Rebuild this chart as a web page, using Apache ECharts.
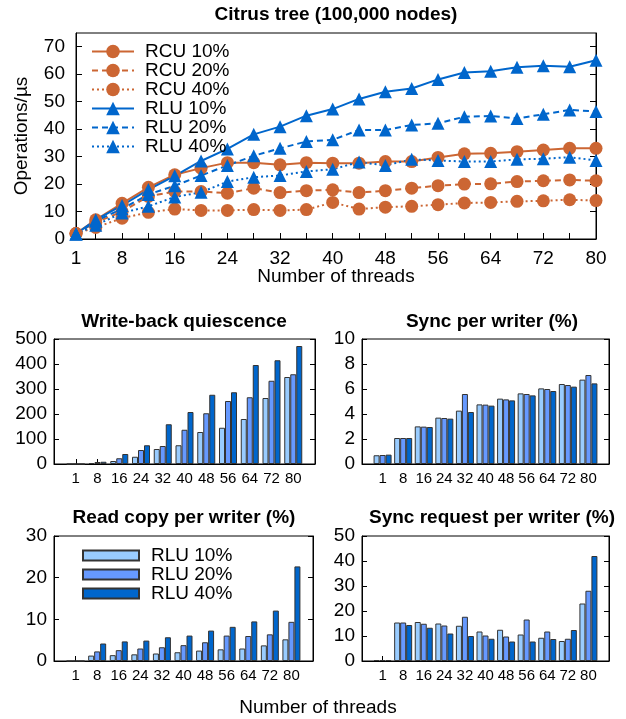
<!DOCTYPE html>
<html><head><meta charset="utf-8">
<script src="https://cdn.jsdelivr.net/npm/echarts@6/dist/echarts.min.js"></script>
<style>html,body{margin:0;padding:0;background:#fff;} #c1,#c2{position:absolute;left:0;top:0;width:626px;height:719px;}</style>
</head><body>
<div id="c1"></div><div id="c2"></div>
<script>
// ---------- data: line chart ----------
const threads = [1,4,8,12,16,20,24,28,32,36,40,44,48,52,56,60,64,68,72,76,80];
const xTickValues = [4,8,12,16,20,24,28,32,36,40,44,48,52,56,60,64,68,72,76];
const xLabelValues = [1,8,16,24,32,40,48,56,64,72,80];
const yLabelValues = [0,10,20,30,40,50,60,70];
const rcu10 = [2,7,13,18.8,23.4,25.8,27.8,27.8,27,27.8,27.6,27.6,28.2,28.2,29.7,31,31.2,31.8,32.4,33,33];
const rcu20 = [2,6,10,15.5,17.3,17.3,16.7,18.5,16.9,17.6,17.9,16.9,17.6,18.5,19.4,20,20.1,20.9,21.2,21.5,21.2];
const rcu40 = [2,4.2,7.6,9.7,10.9,10.4,10.4,10.7,10.4,10.7,13.3,10.9,11.6,11.9,12.5,13.1,13.3,13.7,13.9,14.3,14];
const rlu10 = [1.8,7,12.2,18,23,28.4,32.8,38.1,40.9,44.9,47.3,51,53.6,54.8,58.1,60.6,61.1,62.5,63.1,62.7,65.1];
const rlu20 = [1.8,6.5,11,16.2,19.4,23.1,26.8,30.3,33,35.5,36.1,39.7,39.7,41.5,42.1,44.5,44.8,43.9,45.4,47,46.4];
const rlu40 = [1.8,5,9.5,11.9,15.3,17,20.9,22.5,23.1,24.6,25.4,28,26.8,29,28.6,28.2,28.2,29,29.2,29.8,28.6];

// ---------- data: bar panels ----------
const threadCats = ['1','8','16','24','32','40','48','56','64','72','80'];
const barNames = ['RLU 10%','RLU 20%','RLU 40%'];
const wbq10 = [0,4,12,29,60,75,128,145,180,264,348];
const wbq20 = [0,8,23,56,72,137,203,252,267,333,359];
const wbq40 = [0,9,40,75,159,208,277,287,396,415,472];
const spw10 = [0.7,2.08,3.01,3.71,4.27,4.77,5.23,5.65,6.05,6.4,6.75];
const spw20 = [0.72,2.08,2.99,3.68,5.6,4.75,5.17,5.6,6.0,6.32,7.12];
const spw40 = [0.75,2.08,2.96,3.63,4.16,4.67,5.09,5.49,5.84,6.19,6.45];
const rcpw10 = [0,1.3,1.4,1.6,1.8,2.1,2.5,2.8,3.0,3.75,5.2];
const rcpw20 = [0,2.3,2.6,3.0,3.3,3.8,4.5,6.1,6.0,6.4,9.4];
const rcpw40 = [0,4.2,4.7,4.9,5.7,6.1,7.3,8.2,9.5,12.1,22.7];
const srpw10 = [0.4,15.4,15.6,15.0,14.1,11.8,12.5,10.6,9.3,8.0,23.0];
const srpw20 = [0.4,15.4,14.9,14.2,17.7,10.2,9.8,16.6,11.8,8.9,28.1];
const srpw40 = [0.4,14.4,13.3,11.0,10.0,8.9,7.8,7.8,8.8,12.4,42.0];

const FONT = 'Liberation Sans';
const ORANGE = '#cc6633', BLUE = '#0066cc';
const barColors = ['#99ccff','#6699ff','#0066cc'];

// ---------- top line chart ----------
function lineSeries(name, data, color, dash, symbol) {
  return {
    name, type: 'line', data: threads.map((t, i) => [t, data[i]]),
    symbol, symbolSize: 13,
    lineStyle: { color, width: 2, type: dash },
    itemStyle: { color },
    animation: false
  };
}
const c1 = echarts.init(document.getElementById('c1'));
c1.setOption({
  backgroundColor: '#fff',
  animation: false,
  textStyle: { fontFamily: FONT },
  grid: { left: 76, top: 33, width: 520, height: 206, show: true, borderColor: '#000', borderWidth: 1 },
  xAxis: {
    type: 'value', min: 1, max: 80,
    axisLine: { lineStyle: { color: '#000', width: 1 } },
    axisTick: { inside: true, length: 6, customValues: xTickValues, lineStyle: { color: '#000' } },
    axisLabel: { customValues: xLabelValues, fontSize: 19, color: '#000', margin: 10, fontFamily: FONT },
    splitLine: { show: false }
  },
  yAxis: [
    { type: 'value', min: 0, max: 75,
      axisLine: { show: true, lineStyle: { color: '#000', width: 1 } },
      axisTick: { show: true, inside: true, length: 6, customValues: yLabelValues, lineStyle: { color: '#000' } },
      axisLabel: { customValues: yLabelValues, fontSize: 19, color: '#000', margin: 11, fontFamily: FONT },
      splitLine: { show: false } },
    { type: 'value', min: 0, max: 75, position: 'right',
      axisLine: { show: true, lineStyle: { color: '#000', width: 1 } },
      axisTick: { show: true, inside: true, length: 6, customValues: yLabelValues, lineStyle: { color: '#000' } },
      axisLabel: { show: false }, splitLine: { show: false } }
  ],
  legend: {
    data: ['RCU 10%','RCU 20%','RCU 40%','RLU 10%','RLU 20%','RLU 40%'],
    orient: 'vertical', left: 86, top: 37, itemWidth: 42, itemHeight: 17, itemGap: 0,
    selectedMode: false,
    textStyle: { fontSize: 19, lineHeight: 18.6, color: '#000', fontFamily: FONT, padding: [0,0,0,6] }
  },
  graphic: [
    { type: 'text', x: 336, y: 15, style: { text: 'Citrus tree (100,000 nodes)', font: 'bold 19px "Liberation Sans"', fill: '#000', align: 'center', verticalAlign: 'middle' } },
    { type: 'text', x: 336, y: 277, style: { text: 'Number of threads', font: '19px "Liberation Sans"', fill: '#000', align: 'center', verticalAlign: 'middle' } },
    { type: 'text', x: 22, y: 136, rotation: Math.PI / 2, style: { text: 'Operations/µs', font: '19px "Liberation Sans"', fill: '#000', align: 'center', verticalAlign: 'middle' } }
  ],
  series: [
    lineSeries('RCU 10%', rcu10, ORANGE, 'solid', 'circle'),
    lineSeries('RCU 20%', rcu20, ORANGE, [6,4], 'circle'),
    lineSeries('RCU 40%', rcu40, ORANGE, [2,3], 'circle'),
    lineSeries('RLU 10%', rlu10, BLUE, 'solid', 'triangle'),
    lineSeries('RLU 20%', rlu20, BLUE, [6,4], 'triangle'),
    lineSeries('RLU 40%', rlu40, BLUE, [2,3], 'triangle')
  ]
});

// ---------- bar panels ----------
const panels = [
  { title: 'Write-back quiescence', max: 500, interval: 100, data: [wbq10, wbq20, wbq40], grid: { left: 54, top: 339, width: 261, height: 125 }, tx: 184, ty: 322 },
  { title: 'Sync per writer (%)', max: 10, interval: 2, data: [spw10, spw20, spw40], grid: { left: 362, top: 339, width: 247, height: 125 }, tx: 492, ty: 322 },
  { title: 'Read copy per writer (%)', max: 30, interval: 10, data: [rcpw10, rcpw20, rcpw40], grid: { left: 54, top: 536, width: 259, height: 125 }, tx: 184, ty: 518 },
  { title: 'Sync request per writer (%)', max: 50, interval: 10, data: [srpw10, srpw20, srpw40], grid: { left: 362, top: 536, width: 247, height: 125 }, tx: 492, ty: 518 }
];
const catAxisData = [''].concat(threadCats, ['']);
const grids = [], xAxes = [], yAxes = [], bSeries = [], gfx = [];
panels.forEach((p, i) => {
  grids.push(Object.assign({ show: true, borderColor: '#000', borderWidth: 1 }, p.grid));
  xAxes.push({
    type: 'category', gridIndex: i, data: catAxisData, boundaryGap: false,
    axisLine: { lineStyle: { color: '#000', width: 1 } },
    axisTick: { inside: true, length: 5, interval: 0, lineStyle: { color: '#000' } },
    axisLabel: { interval: 0, fontSize: 15, color: '#000', margin: 7, fontFamily: FONT },
    splitLine: { show: false }
  });
  const yBase = { type: 'value', gridIndex: i, min: 0, max: p.max, interval: p.interval, splitLine: { show: false },
    axisLine: { show: true, lineStyle: { color: '#000', width: 1 } },
    axisTick: { show: true, inside: true, length: 5, lineStyle: { color: '#000' } } };
  yAxes.push(Object.assign({}, yBase, { axisLabel: { fontSize: 19, color: '#000', margin: 7, fontFamily: FONT } }));
  yAxes.push(Object.assign({}, yBase, { position: 'right', axisLabel: { show: false } }));
  p.data.forEach((vals, k) => {
    bSeries.push({
      type: 'bar', name: barNames[k], xAxisIndex: i, yAxisIndex: 2 * i,
      data: [null].concat(vals, [null]),
      barWidth: 6, barGap: '0%',
      itemStyle: { color: barColors[k], borderColor: '#333', borderWidth: 1 },
      animation: false
    });
  });
  gfx.push({ type: 'text', x: p.tx, y: p.ty, style: { text: p.title, font: 'bold 19px "Liberation Sans"', fill: '#000', align: 'center', verticalAlign: 'middle' } });
});
gfx.push({ type: 'text', x: 318, y: 708, style: { text: 'Number of threads', font: '19px "Liberation Sans"', fill: '#000', align: 'center', verticalAlign: 'middle' } });

const c2 = echarts.init(document.getElementById('c2'));
c2.setOption({
  animation: false,
  textStyle: { fontFamily: FONT },
  grid: grids, xAxis: xAxes, yAxis: yAxes,
  legend: {
    data: barNames, orient: 'vertical', left: 77, top: 541, itemWidth: 56, itemHeight: 10, itemGap: 0,
    icon: 'rect', selectedMode: false,
    textStyle: { fontSize: 19, lineHeight: 19, color: '#000', fontFamily: FONT, padding: [0,0,0,7] }
  },
  graphic: gfx,
  series: bSeries
});
</script>
</body></html>
